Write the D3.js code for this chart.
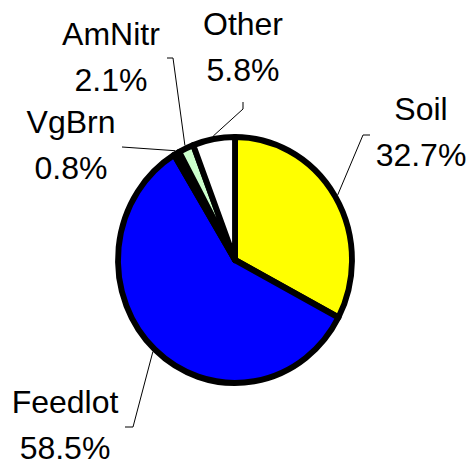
<!DOCTYPE html>
<html>
<head>
<meta charset="utf-8">
<script src="https://cdn.jsdelivr.net/npm/d3@7"></script>
<style>
  body { margin: 0; background: #fff; }
  text { font-family: "Liberation Sans", Arial, sans-serif; }
</style>
</head>
<body>
<div class="chart"></div>
<script>
var categories = ["Soil", "Feedlot", "VgBrn", "AmNitr", "Other"];
var values = [32.7, 58.5, 0.8, 2.1, 5.8];
var colors = ["#ffff00", "#0000ff", "#000000", "#ccffcc", "#ffffff"];

var svgWidth = 474;
var svgHeight = 464;
var cx = 235, cy = 260, radius = 120;
// the original pie is a touch taller than wide
var sx = 0.975, sy = 1.025;

var svg = d3.select(".chart")
  .append("svg")
  .attr("width", svgWidth)
  .attr("height", svgHeight);

var data = categories.map(function(c, i) {
  return { name: c, value: values[i], color: colors[i] };
});

// slices go clockwise from 12 o'clock
var pie = d3.pie().sort(null).value(d => d.value);
var arcs = pie(data);

var arc = d3.arc().innerRadius(0).outerRadius(radius);

var pieGroup = svg.append("g")
  .attr("transform", `translate(${cx}, ${cy}) scale(${sx}, ${sy})`);

pieGroup.selectAll("path")
  .data(arcs)
  .enter()
  .append("path")
  .attr("d", arc)
  .attr("fill", d => d.data.color)
  .attr("stroke", "#000")
  .attr("stroke-width", 6)
  .attr("stroke-linejoin", "round");

// label placement (text centre x, first baseline y, leader start and elbow)
var labelPos = {
  Soil:    { x: 421, y: 120, lead: [[370, 135], [363, 135]] },
  Feedlot: { x: 65,  y: 413, lead: [[125, 427], [133, 427]] },
  VgBrn:   { x: 71,  y: 133, lead: [[122, 147]] },
  AmNitr:  { x: 111, y: 45,  lead: [[167, 58], [173, 58]] },
  Other:   { x: 243, y: 35,  lead: [[243, 102], [243, 109]] }
};

var edge = d3.arc().innerRadius(radius + 3).outerRadius(radius + 3);

arcs.forEach(function(d) {
  var p = labelPos[d.data.name];
  var c = edge.centroid(d);
  var pts = p.lead.concat([[cx + c[0] * sx, cy + c[1] * sy]]);

  svg.append("path")
    .attr("d", d3.line()(pts))
    .attr("fill", "none")
    .attr("stroke", "#000")
    .attr("stroke-width", 1);

  var t = svg.append("text")
    .attr("x", p.x)
    .attr("y", p.y)
    .attr("text-anchor", "middle")
    .attr("font-size", "32px")
    .attr("fill", "#000");
  t.append("tspan").attr("x", p.x).text(d.data.name);
  t.append("tspan").attr("x", p.x).attr("dy", 46).text(d.data.value.toFixed(1) + "%");
});
</script>
</body>
</html>
